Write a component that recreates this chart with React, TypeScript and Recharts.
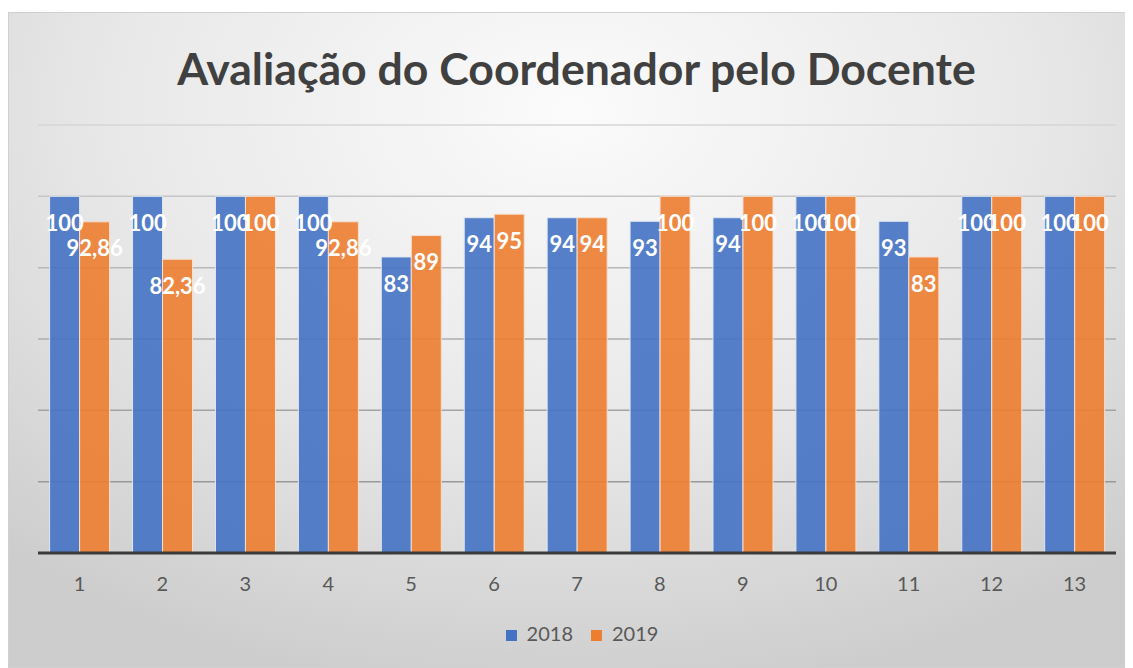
import { BarChart, Bar, XAxis, YAxis, CartesianGrid, Legend, LabelList } from "recharts";

const categories = ["1", "2", "3", "4", "5", "6", "7", "8", "9", "10", "11", "12", "13"];
const values2018 = [100, 100, 100, 100, 83, 94, 94, 93, 94, 100, 93, 100, 100];
const values2019 = [92.86, 82.36, 100, 92.86, 89, 95, 94, 100, 100, 100, 83, 100, 100];
const yTicks = [0, 20, 40, 60, 80, 100, 120];

const data = categories.map((c, i) => ({ cat: c, y2018: values2018[i], y2019: values2019[i] }));

const fmt = (v: any) => String(v).replace(".", ",");

const FONT = "Lato, 'Open Sans', sans-serif";

export default function App() {
  return (
    <div
      style={{
        position: "relative",
        width: 1125,
        height: 656,
        marginTop: 4,
        border: "1px solid #d0d0d0",
        boxSizing: "border-box",
        background: "radial-gradient(ellipse 75% 90% at 50% 15%, #fbfbfb 0%, #e8e8e8 55%, #cdcdcd 100%)",
        fontFamily: FONT,
        overflow: "hidden",
      }}
    >
      <div
        style={{
          position: "absolute",
          top: 30,
          left: 6,
          width: "100%",
          textAlign: "center",
          fontSize: 44.6,
          fontWeight: 700,
          color: "#404040",
          lineHeight: "50px",
        }}
      >
        Avaliação do Coordenador pelo Docente
      </div>
      <BarChart
        width={1123}
        height={654}
        data={data}
        margin={{ top: 112, right: 16, left: 29, bottom: 0 }}
        barCategoryGap="14%"
        barGap={0}
        style={{ position: "absolute", top: 0, left: 0 }}
      >
        <defs>
          <linearGradient id="gridGrad" gradientUnits="userSpaceOnUse" x1="0" y1="112" x2="0" y2="540">
            <stop offset="0%" stopColor="#d6d6d6" />
            <stop offset="25%" stopColor="#bdbdbd" />
            <stop offset="100%" stopColor="#8e8e8e" />
          </linearGradient>
        </defs>
        <CartesianGrid vertical={false} stroke="url(#gridGrad)" strokeWidth={1.5} />
        <YAxis hide domain={[0, 120]} ticks={yTicks} />
        <XAxis
          dataKey="cat"
          axisLine={{ stroke: "#3a3a3a", strokeWidth: 3 }}
          tickLine={false}
          tick={{ fill: "#595959", fontSize: 20, fontFamily: FONT }}
          tickMargin={18}
          height={60}
        />
        <Legend
          verticalAlign="bottom"
          height={46}
          iconType="square"
          iconSize={11}
          wrapperStyle={{ fontSize: 20, fontFamily: FONT, color: "#595959", paddingTop: 8, paddingLeft: 14 }}
          formatter={(v: any) => <span style={{ color: "#595959", marginLeft: 6, marginRight: 8 }}>{v}</span>}
        />
        <Bar dataKey="y2018" name="2018" fill="#4472C4" fillOpacity={0.9} stroke="#dfe6f2" strokeWidth={1} isAnimationActive={false}>
          <LabelList dataKey="y2018" position="insideTop" offset={19} formatter={fmt} fill="#ffffff" fontSize={22} fontWeight={700} fontFamily={FONT} />
        </Bar>
        <Bar dataKey="y2019" name="2019" fill="#ED7D31" fillOpacity={0.9} stroke="#f6dfcf" strokeWidth={1} isAnimationActive={false}>
          <LabelList dataKey="y2019" position="insideTop" offset={19} formatter={fmt} fill="#ffffff" fontSize={22} fontWeight={700} fontFamily={FONT} />
        </Bar>
      </BarChart>
    </div>
  );
}
